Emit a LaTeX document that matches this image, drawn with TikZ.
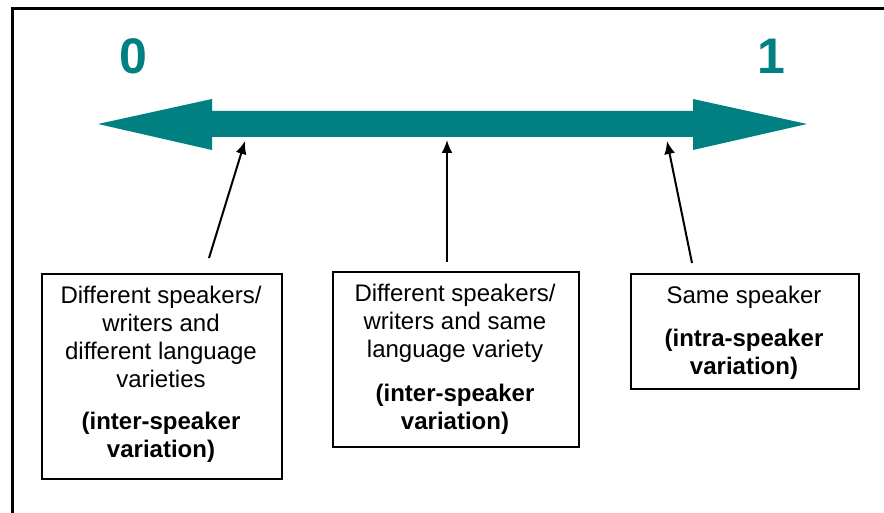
\documentclass[tikz,border=0pt]{standalone}
\usepackage{fontspec}
\setmainfont{Liberation Sans}
\usetikzlibrary{arrows.meta}
\definecolor{teal1}{RGB}{0,128,128}
\begin{document}
\begin{tikzpicture}[x=1pt,y=-1pt,
  frameline/.style={line width=3pt,line cap=rect},
  boxshape/.style={draw,line width=2pt,rectangle,inner sep=0pt,anchor=north west},
  boxtext/.style={anchor=north,inner sep=0pt,align=center,font=\fontsize{24}{28}\selectfont},
  pointer/.style={line width=2pt,-{Latex[length=13pt,width=11pt]}},
  endlabel/.style={font=\fontsize{50}{50}\selectfont\bfseries,text=teal1,inner sep=0pt}]
\useasboundingbox (0,0) rectangle (884,513);
% frame
\draw[frameline] (884,9) -- (12,9) -- (12,513);
% big double arrow
\fill[teal1] (98,124) -- (212,99) -- (212,111) -- (693,111) -- (693,99) -- (807,124)
  -- (693,150) -- (693,137) -- (212,137) -- (212,150) -- cycle;
% end labels
\node[endlabel] (zero) at (133,56) {0};
\node[endlabel] (one) at (771,56) {1};
% boxes
\node[boxshape,minimum width=240pt,minimum height=205pt] (boxL) at (41,273) {};
\node[boxshape,minimum width=246pt,minimum height=175pt] (boxM) at (332,271) {};
\node[boxshape,minimum width=228pt,minimum height=115pt] (boxR) at (630,273) {};
% texts
\node[boxtext] (tL) at (161,286) {Different speakers/\\writers and\\different language\\varieties\\[14pt]\bfseries (inter-speaker\\\bfseries variation)};
\node[boxtext] (tM) at (455,284) {Different speakers/\\writers and same\\language variety\\[16pt]\bfseries (inter-speaker\\\bfseries variation)};
\node[boxtext] (tR) at (744,286) {Same speaker\\[15pt]\bfseries (intra-speaker\\\bfseries variation)};
% pointer coordinates
\coordinate (sL) at (209,258);
\coordinate (eL) at (245,141);
\coordinate (sM) at (447,262);
\coordinate (eM) at (447,140);
\coordinate (sR) at (692,263);
\coordinate (eR) at (667,141);
\draw[pointer] (sL) -- (eL);
\draw[pointer] (sM) -- (eM);
\draw[pointer] (sR) -- (eR);
\end{tikzpicture}
\end{document}
